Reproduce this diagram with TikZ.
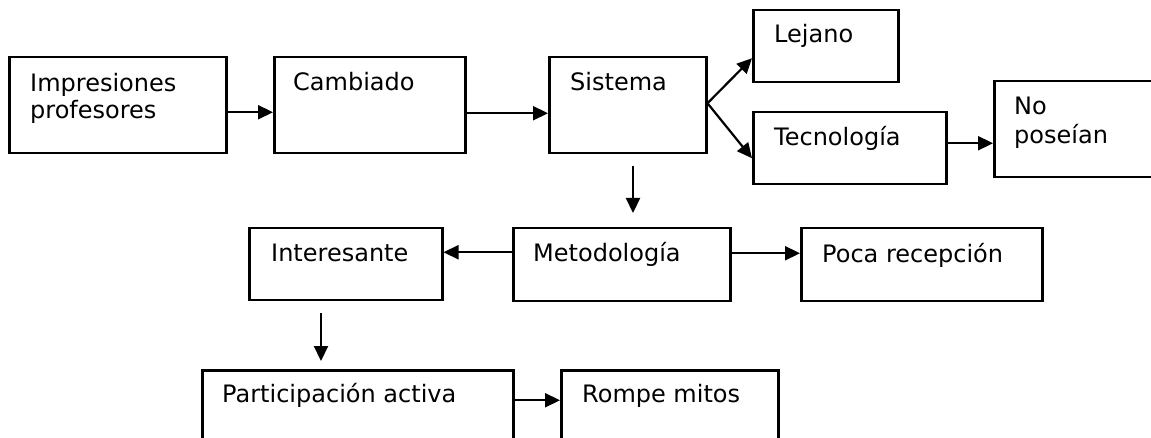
\documentclass[tikz,border=0pt]{standalone}
\usepackage{fontspec}
\setmainfont{DejaVu Sans}
\usetikzlibrary{arrows.meta}
\begin{document}
\begin{tikzpicture}[x=1pt,y=-1pt,
  box/.style={draw, line width=2.5pt, rectangle, inner sep=0pt, anchor=north west},
  txt/.style={anchor=base west, inner sep=0pt, font=\fontsize{24}{28}\selectfont},
  arr/.style={line width=2.2pt, -{Triangle[length=15pt,width=14pt]}}]
\useasboundingbox (0,0) rectangle (1151,438);
\clip (0,0) rectangle (1151,438);
% boxes
\node[box, minimum width=217pt, minimum height=96pt] (imp) at (8,56) {};
\node[box, minimum width=191pt, minimum height=96pt] (cam) at (273,56) {};
\node[box, minimum width=157pt, minimum height=96pt] (sis) at (548,56) {};
\node[box, minimum width=145pt, minimum height=72pt] (lej) at (752,9) {};
\node[box, minimum width=193pt, minimum height=72pt] (tec) at (752,111) {};
\node[box, minimum width=180pt, minimum height=96pt] (nop) at (993,80) {};
\node[box, minimum width=193pt, minimum height=72pt] (int) at (248,227) {};
\node[box, minimum width=217pt, minimum height=73pt] (met) at (512,227) {};
\node[box, minimum width=241pt, minimum height=73pt] (poc) at (800,227) {};
\node[box, minimum width=311pt, minimum height=100pt] (par) at (201,369) {};
\node[box, minimum width=217pt, minimum height=100pt] (rom) at (560,369) {};
% texts
\node[txt] (timp1) at (30,92) {Impresiones};
\node[txt] (timp2) at (30,119) {profesores};
\node[txt] (tcam) at (293,91) {Cambiado};
\node[txt] (tsis) at (570,91) {Sistema};
\node[txt] (tlej) at (774,43) {Lejano};
\node[txt] (ttec) at (774,146) {Tecnología};
\node[txt] (tnop1) at (1014,115) {No};
\node[txt] (tnop2) at (1014,144) {poseían};
\node[txt] (tint) at (271,262) {Interesante};
\node[txt] (tmet) at (533,262) {Metodología};
\node[txt] (tpoc) at (822,263) {Poca recepción};
\node[txt] (tpar) at (222,402) {Participación activa};
\node[txt] (trom) at (582,402) {Rompe mitos};
% free arrow ends
\coordinate (d1s) at (633,166);
\coordinate (d1e) at (633,213);
\coordinate (d2s) at (321,313);
\coordinate (d2e) at (321,361);
% connectors
\draw[arr] ([yshift=-7pt]imp.east) -- ([yshift=-7pt]imp.east -| cam.west);
\draw[arr] ([yshift=-8pt]cam.east) -- ([yshift=-8pt]cam.east -| sis.west);
\draw[arr] ([yshift=2pt]sis.east) -- ([yshift=-12pt]lej.west);
\draw[arr] ([yshift=2pt]sis.east) -- ([yshift=-10pt]tec.west);
\draw[arr] ([yshift=5pt]tec.east) -- ([yshift=5pt]tec.east -| nop.west);
\draw[arr] (d1s) -- (d1e);
\draw[arr] ([yshift=12.5pt]met.west) -- ([yshift=12.5pt]met.west -| int.east);
\draw[arr] ([yshift=11.5pt]met.east) -- ([yshift=11.5pt]met.east -| poc.west);
\draw[arr] (d2s) -- (d2e);
\draw[arr] ([yshift=20pt]par.east) -- ([yshift=20pt]par.east -| rom.west);
\end{tikzpicture}
\end{document}
